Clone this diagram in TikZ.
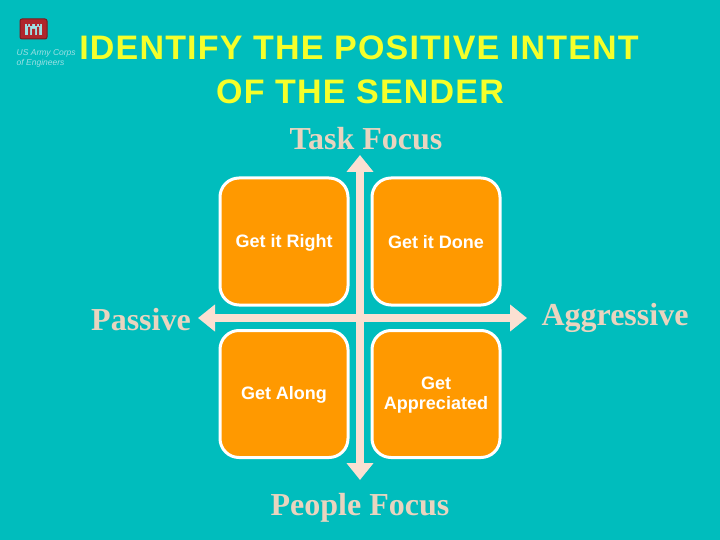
\documentclass[tikz,border=0pt]{standalone}
\usepackage{fontspec}
\setmainfont{Liberation Sans}
\newfontfamily\serifx{Liberation Serif}
\newfontfamily\ttlfont[LetterSpace=3.5]{Liberation Sans}
\usetikzlibrary{arrows.meta}
\definecolor{bgc}{HTML}{00BDBD}
\definecolor{org}{HTML}{FF9900}
\definecolor{arr}{HTML}{FBE0D2}
\definecolor{tan}{HTML}{E9D4BF}
\definecolor{ttl}{HTML}{F5FF2A}
\definecolor{logor}{HTML}{B0262C}
\definecolor{logot}{HTML}{9FE0E4}
\tikzset{
  x=1pt,y=-1pt,
  quad/.style={draw=white,line width=3pt,fill=org,rounded corners=19pt,minimum width=128pt,minimum height=127pt,inner sep=0pt},
  qtext/.style={text=white,font=\fontsize{18}{20}\selectfont\bfseries,align=center},
  axis/.style={draw=arr,line width=8pt,{Triangle[length=17pt,width=26pt]}-{Triangle[length=17pt,width=26pt]}},
  ttl/.style={text=ttl,font=\ttlfont\fontsize{34}{40}\selectfont\bfseries,inner sep=0pt},
  lab/.style={text=tan,font=\serifx\fontsize{32}{34}\selectfont\bfseries,inner sep=0pt},
  logotxt/.style={text=logot,font=\fontsize{8.5}{9}\selectfont\itshape,inner sep=0pt,anchor=west}
}
\begin{document}
\begin{tikzpicture}
\useasboundingbox[fill=bgc] (0,0) rectangle (720,540);
% logo
\node[fill=logor,draw=logor!70!black,line width=1pt,rounded corners=2pt,minimum width=27pt,minimum height=20pt,inner sep=0pt] (logo) at (33.5,29) {};
\fill[logot] (25,24) rectangle (42,35);
\fill[logor] (28,27) rectangle (30,35) (37,27) rectangle (39,35) (32,29) rectangle (35,35)
  (27,24) rectangle (28,26) (30,24) rectangle (32,26) (35,24) rectangle (37,26) (39,24) rectangle (40,26);
\node[logotxt] (lg1) at (16.5,53) {US Army Corps};
\node[logotxt] (lg2) at (16.5,63) {of Engineers};
% title
\node[ttl] (t1) at (359,48) {IDENTIFY THE POSITIVE INTENT};
\node[ttl] (t2) at (360,92) {OF THE SENDER};
% axis labels
\node[lab] (task) at (366,139) {Task Focus};
\node[lab] (people) at (360,508) {People Focus};
\node[lab] (passive) at (141,320) {Passive};
\node[lab] (aggr) at (615,318) {Aggressive};
% axes
\coordinate (top) at (360,155);
\coordinate (bot) at (360,480);
\coordinate (lft) at (198,318);
\coordinate (rgt) at (527,318);
\draw[axis] (lft) -- (rgt);
\draw[axis] (top) -- (bot);
% quadrants
\node[quad] (q1) at (284,241.5) {};
\node[quad] (q2) at (436,241.5) {};
\node[quad] (q3) at (284,394) {};
\node[quad] (q4) at (436,394) {};
\node[qtext,yshift=-1pt] at (q1) {Get it Right};
\node[qtext,yshift=-1pt] at (q2) {Get it Done};
\node[qtext,yshift=-1pt] at (q3) {Get Along};
\node[qtext,yshift=-1pt] at (q4) {Get\\Appreciated};
\end{tikzpicture}
\end{document}
